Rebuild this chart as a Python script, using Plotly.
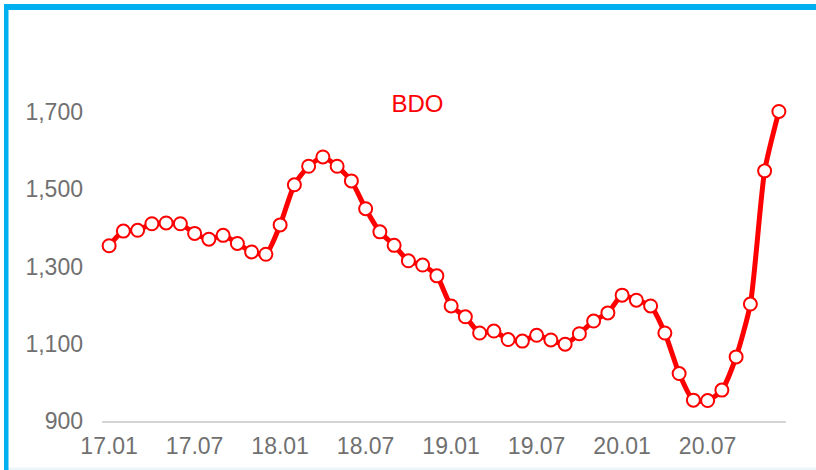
import plotly.graph_objects as go

months = [
    "17.01", "17.02", "17.03", "17.04", "17.05", "17.06", "17.07", "17.08", "17.09", "17.10", "17.11", "17.12",
    "18.01", "18.02", "18.03", "18.04", "18.05", "18.06", "18.07", "18.08", "18.09", "18.10", "18.11", "18.12",
    "19.01", "19.02", "19.03", "19.04", "19.05", "19.06", "19.07", "19.08", "19.09", "19.10", "19.11", "19.12",
    "20.01", "20.02", "20.03", "20.04", "20.05", "20.06", "20.07", "20.08", "20.09", "20.10", "20.11", "20.12",
]
bdo_price = [
    1354, 1392, 1394, 1411, 1413, 1411, 1386, 1371, 1381, 1360, 1338, 1332,
    1408, 1512, 1560, 1584, 1560, 1522, 1450, 1390, 1355, 1315, 1304, 1276,
    1198, 1170, 1128, 1133, 1111, 1107, 1122, 1110, 1099, 1126, 1159, 1180,
    1226, 1213, 1198, 1128, 1023, 954, 953, 980, 1066, 1203, 1548, 1702,
]
x_tick_labels = ["17.01", "17.07", "18.01", "18.07", "19.01", "19.07", "20.01", "20.07"]
y_tick_values = [900, 1100, 1300, 1500, 1700]
series_name = "BDO"

W, H = 816, 470
L, R, T, B = 102, 30, 35, 49
pw, ph = W - L - R, H - T - B

def px_x(p):
    return (p - L) / pw

def px_y(p):
    return (H - B - p) / ph

FONT = "Liberation Sans, Arial, sans-serif"

fig = go.Figure()
fig.add_trace(go.Scatter(
    x=months, y=bdo_price, mode="lines+markers", name=series_name,
    line=dict(color="#ff0000", width=5, shape="spline", smoothing=0.6),
    marker=dict(size=13, color="white", line=dict(color="#ff0000", width=2)),
    cliponaxis=False,
))

fig.update_layout(
    width=W, height=H,
    margin=dict(l=L, r=R, t=T, b=B, pad=0),
    paper_bgcolor="white", plot_bgcolor="white",
    showlegend=False,
    font=dict(family=FONT, size=23, color="#707070"),
    title=dict(text=series_name, x=417.5 / W, y=1 - 104 / H, xanchor="center", yanchor="middle",
               font=dict(color="#ff0000", size=24, family=FONT)),
    xaxis=dict(
        type="category", range=[-0.5, len(months) - 0.5],
        tickmode="array", tickvals=x_tick_labels, ticktext=x_tick_labels,
        showgrid=False, zeroline=False, showline=True, linecolor="#d4d4d4", linewidth=2,
        ticks="", ticklabelstandoff=3, tickfont=dict(size=23),
    ),
    yaxis=dict(
        range=[900, 1900], tickmode="array", tickvals=y_tick_values,
        tickformat=",d", showgrid=False, zeroline=False, showline=False,
        ticks="", ticklabelstandoff=18, tickfont=dict(size=23),
    ),
    shapes=[
        dict(type="rect", xref="paper", yref="paper", layer="above",
             x0=px_x(4), x1=px_x(830), y0=px_y(10), y1=px_y(4),
             fillcolor="#00b0f0", line=dict(width=0)),
        dict(type="rect", xref="paper", yref="paper", layer="above",
             x0=px_x(4), x1=px_x(8.5), y0=px_y(480), y1=px_y(4),
             fillcolor="#00b0f0", line=dict(width=0)),
        dict(type="rect", xref="paper", yref="paper", layer="below",
             x0=px_x(8.5), x1=px_x(830), y0=px_y(470), y1=px_y(467.5),
             fillcolor="#eaf5fc", line=dict(width=0)),
    ],
)

fig.write_html("out.html",
               config={"displayModeBar": False},
               post_script="document.body.style.margin='0';document.body.style.overflow='hidden';")
